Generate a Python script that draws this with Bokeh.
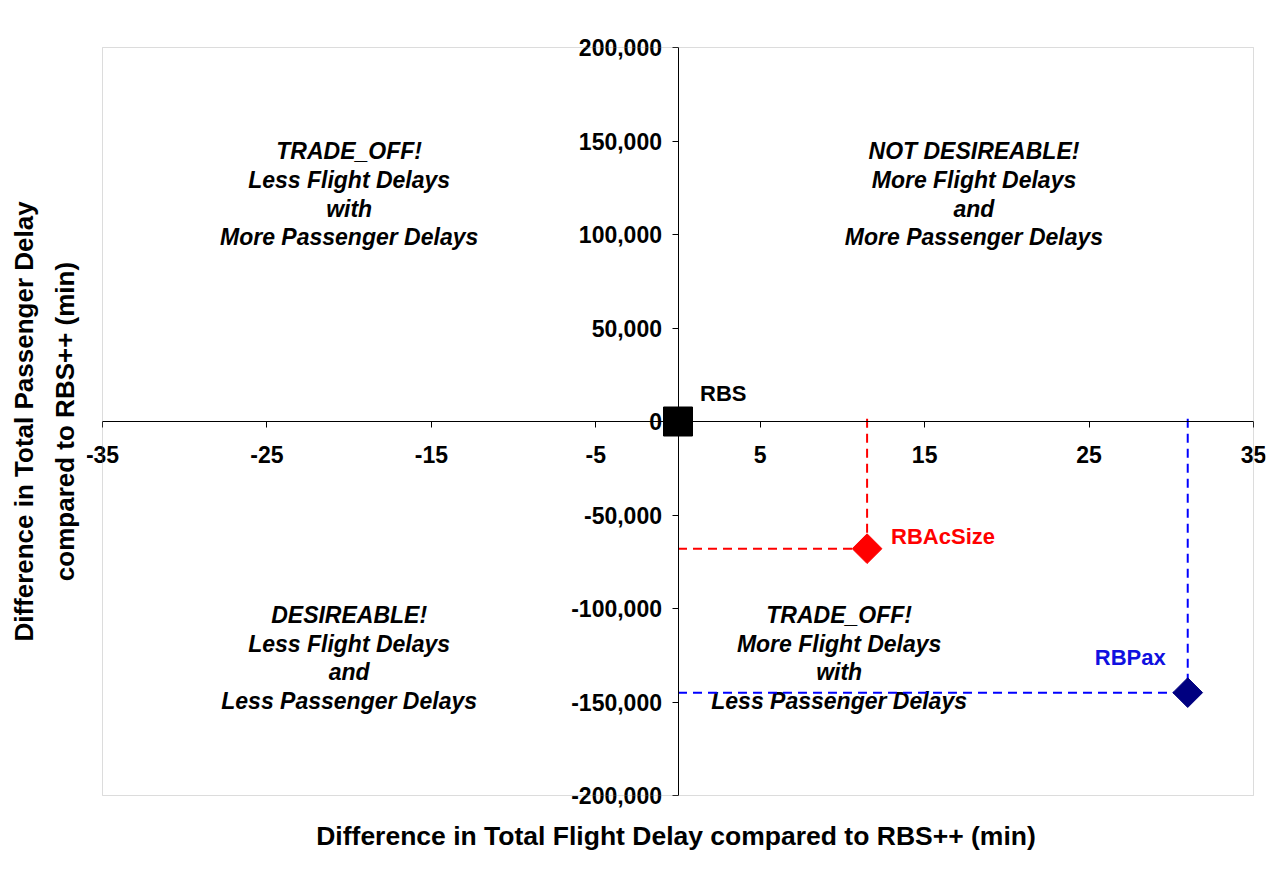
import math
from bokeh.plotting import figure
from bokeh.models import FixedTicker, NumeralTickFormatter, Range1d, BoxAnnotation, Title
from bokeh.core.properties import value
from bokeh.embed import file_html
from bokeh.resources import INLINE

# ---- data ----
x_ticks = [-35, -25, -15, -5, 5, 15, 25, 35]
y_ticks = [-200000, -150000, -100000, -50000, 0, 50000, 100000, 150000, 200000]
names = ["RBS", "RBAcSize", "RBPax"]
flight_delay_diff = [0.0, 11.5, 31.0]
pax_delay_diff = [0, -68000, -145000]
quadrant_texts = [
    "TRADE_OFF!\nLess Flight Delays\nwith\nMore Passenger Delays",
    "NOT DESIREABLE!\nMore Flight Delays\nand\nMore Passenger Delays",
    "DESIREABLE!\nLess Flight Delays\nand\nLess Passenger Delays",
    "TRADE_OFF!\nMore Flight Delays\nwith\nLess Passenger Delays",
]
x_title = "Difference in Total Flight Delay compared to RBS++ (min)"
y_title_lines = ["Difference in Total Passenger Delay", "compared to RBS++ (min)"]

X_MIN, X_MAX = -35, 35
Y_MIN, Y_MAX = -200000, 200000

FONT = "Liberation Sans"

# pixel scale of the plotting box
box_w, box_h = 1151, 748
ux = (X_MAX - X_MIN) / box_w
uy = (Y_MAX - Y_MIN) / box_h
pad_l, pad_r, pad_tb = 16, 12, 14

p = figure(frame_width=box_w + pad_l + pad_r, frame_height=box_h + 2 * pad_tb,
           x_range=Range1d(X_MIN - pad_l * ux, X_MAX + pad_r * ux),
           y_range=Range1d(Y_MIN - pad_tb * uy, Y_MAX + pad_tb * uy),
           output_backend="svg", toolbar_location=None,
           min_border_left=86, min_border_right=8,
           min_border_top=33, min_border_bottom=60)
p.grid.visible = False
p.outline_line_color = None
p.background_fill_color = "white"
p.border_fill_color = "white"

p.add_layout(BoxAnnotation(left=X_MIN, right=X_MAX, bottom=Y_MIN, top=Y_MAX,
                           fill_alpha=0, line_color="#8c8c8c", line_width=1))

for ax in (p.xaxis[0], p.yaxis[0]):
    ax.fixed_location = 0
    ax.axis_line_color = "black"
    ax.axis_line_width = 1
    ax.major_tick_line_color = "black"
    ax.major_tick_out = 6
    ax.major_tick_in = 0
    ax.minor_tick_line_color = None
    ax.major_label_text_font = FONT
    ax.major_label_text_font_style = "bold"
    ax.major_label_text_font_size = "23px"
    ax.major_label_text_color = "black"

p.xaxis[0].bounds = (X_MIN, X_MAX)
p.yaxis[0].bounds = (Y_MIN, Y_MAX)
p.xaxis[0].major_label_standoff = 18
p.yaxis[0].major_label_standoff = 10
p.xaxis[0].ticker = FixedTicker(ticks=x_ticks)
p.yaxis[0].ticker = FixedTicker(ticks=y_ticks)
p.xaxis[0].formatter = NumeralTickFormatter(format="0")
p.yaxis[0].formatter = NumeralTickFormatter(format="0,0")

# quadrant texts
qx = [-20, 18, -20, 9.8]
qy = [121500, 121500, -126500, -126500]
for t, x, y in zip(quadrant_texts, qx, qy):
    p.text(x=[x], y=[y], text=[t], text_font=value(FONT), text_font_style="bold italic",
           text_font_size="23px", text_align="center", text_baseline="middle",
           text_line_height=1.1, text_color="black")

# dashed guide lines
guide_colors = [None, "#ff0000", "#0000ff"]
for xv, yv, c in zip(flight_delay_diff, pax_delay_diff, guide_colors):
    if c is None:
        continue
    p.segment(x0=[0], y0=[yv], x1=[xv], y1=[yv], line_color=c, line_width=2, line_dash="9 6")
    p.segment(x0=[xv], y0=[1500], x1=[xv], y1=[yv], line_color=c, line_width=2, line_dash="9 6")

# markers
p.scatter(x=[flight_delay_diff[0]], y=[pax_delay_diff[0]], marker="square", size=29,
          fill_color="black", line_color="black")
p.scatter(x=[flight_delay_diff[1]], y=[pax_delay_diff[1]], marker="square", size=21,
          angle=math.pi / 4, fill_color="#ff0000", line_color="#ff0000")
p.scatter(x=[flight_delay_diff[2]], y=[pax_delay_diff[2]], marker="square", size=21,
          angle=math.pi / 4, fill_color="#000080", line_color="#000080")

# point labels
lab_style = dict(text_font=value(FONT), text_font_style="bold", text_font_size="22px",
                 text_baseline="middle")
p.text(x=[flight_delay_diff[0]], y=[pax_delay_diff[0]], text=[names[0]], text_color="black",
       text_align="left", x_offset=22, y_offset=-28, **lab_style)
p.text(x=[flight_delay_diff[1]], y=[pax_delay_diff[1]], text=[names[1]], text_color="#ff0000",
       text_align="left", x_offset=24, y_offset=-12, **lab_style)
p.text(x=[flight_delay_diff[2]], y=[pax_delay_diff[2]], text=[names[2]], text_color="#1010e0",
       text_align="right", x_offset=-22, y_offset=-35, **lab_style)

# axis titles
p.add_layout(Title(text=x_title, text_font=FONT, text_font_style="bold",
                   text_font_size="26.5px", align="center", standoff=19,
                   text_color="black"), "below")
p.add_layout(Title(text=y_title_lines[1], text_font=FONT, text_font_style="bold",
                   text_font_size="26px", align="center", standoff=13,
                   text_color="black"), "left")
p.add_layout(Title(text=y_title_lines[0], text_font=FONT, text_font_style="bold",
                   text_font_size="26px", align="center", standoff=6,
                   text_color="black"), "left")

open("out.html", "w").write(file_html(p, INLINE))
